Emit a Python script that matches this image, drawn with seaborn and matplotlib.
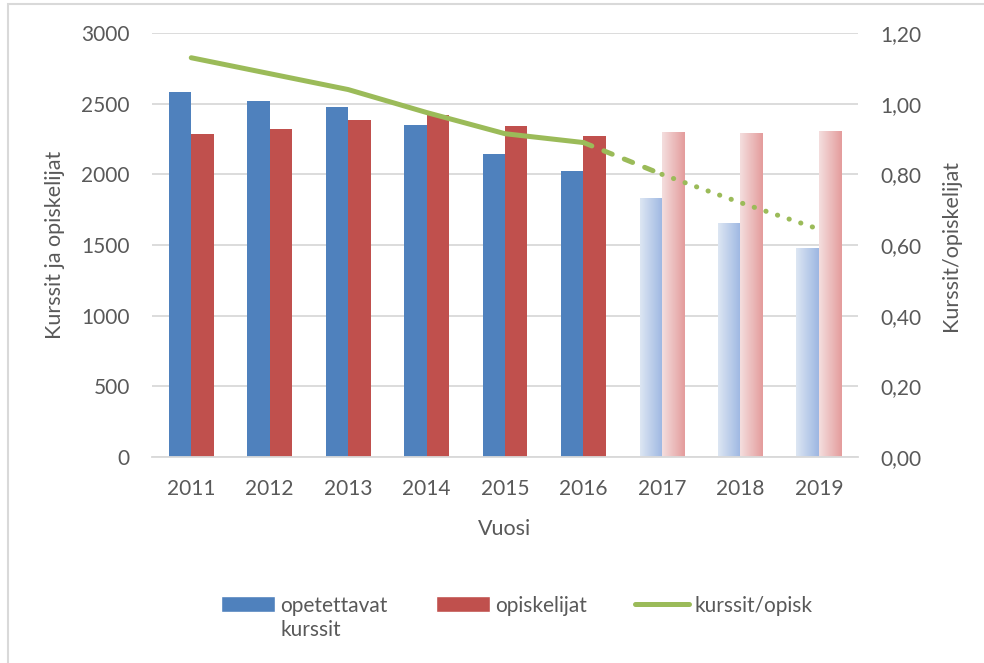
import numpy as np
import pandas as pd
import matplotlib
matplotlib.use("Agg")
import matplotlib.pyplot as plt
import seaborn as sns
from matplotlib.patches import Patch, Rectangle
from matplotlib.lines import Line2D
from matplotlib.colors import LinearSegmentedColormap

# data
years = ["2011", "2012", "2013", "2014", "2015", "2016", "2017", "2018", "2019"]
kurssit = [2580, 2517, 2476, 2349, 2144, 2024, 1833, 1656, 1479]
opiskelijat = [2283, 2319, 2384, 2418, 2342, 2271, 2300, 2293, 2307]
suhde = [1.13, 1.085, 1.04, 0.975, 0.915, 0.89, 0.80, 0.72, 0.645]
n_actual = 6  # 2011-2016 real, 2017-2019 forecast

blue = "#4f81bd"
red = "#c0504d"
green = "#9bbb59"
txt = "#595959"
fs = 15

sns.set_theme(style="white")
plt.rcParams['font.family'] = ['Lato', 'DejaVu Sans']
plt.rcParams['text.color'] = txt
plt.rcParams['axes.labelcolor'] = txt
plt.rcParams['xtick.color'] = txt
plt.rcParams['ytick.color'] = txt

df = pd.DataFrame({
    "Vuosi": years * 2,
    "arvo": kurssit + opiskelijat,
    "sarja": ["opetettavat kurssit"] * len(years) + ["opiskelijat"] * len(years),
})

fig = plt.figure(figsize=(9.84, 6.63), dpi=100)
ax = fig.add_axes([0.1545, 0.3107, 0.7175, 0.6395])

sns.barplot(ax=ax, data=df, x="Vuosi", y="arvo", hue="sarja",
            palette=[blue, red], width=0.57, legend=False, saturation=1,
            edgecolor="none")

# gradient fill for forecast bars
grads = [
    LinearSegmentedColormap.from_list("b", ["#dde6f3", "#9db7e2"]),
    LinearSegmentedColormap.from_list("r", ["#f4dede", "#e49c9c"]),
]
grad_img = np.linspace(0, 1, 100).reshape(1, -1)
for cont, cmap in zip(ax.containers, grads):
    for i, bar in enumerate(cont.patches):
        if i < n_actual:
            continue
        x0, y0 = bar.get_x(), bar.get_y()
        w, h = bar.get_width(), bar.get_height()
        bar.set_facecolor("none")
        im = ax.imshow(grad_img, cmap=cmap, aspect="auto",
                       extent=[x0, x0 + w, y0, y0 + h], zorder=bar.get_zorder())
        im.set_clip_path(bar)

ax.set_xlim(-0.5, len(years) - 0.5)
ax.set_ylim(0, 3000)
ax.set_yticks(range(0, 3001, 500))
ax.yaxis.grid(True, color="#d9d9d9", linewidth=1.3)
ax.set_axisbelow(True)
for s in ["top", "right", "left"]:
    ax.spines[s].set_visible(False)
ax.spines["bottom"].set_color("#d9d9d9")
ax.spines["bottom"].set_linewidth(1.3)
ax.tick_params(axis="y", length=0, labelsize=fs, pad=16)
ax.tick_params(axis="x", length=0, labelsize=fs, pad=16)
ax.set_xlabel("Vuosi", fontsize=fs + 0.5, labelpad=14)
ax.set_ylabel("Kurssit ja opiskelijat", fontsize=fs + 0.5, labelpad=12)

# ratio line on secondary axis
ax2 = ax.twinx()
xs = np.arange(len(years))
lw = 3.6
ax2.plot(xs[:n_actual], suhde[:n_actual], color=green, lw=lw,
         solid_capstyle="round")
ax2.plot(xs[n_actual - 1:n_actual + 1], suhde[n_actual - 1:n_actual + 1],
         color=green, lw=lw, linestyle=(0, (1.8, 2.6)), dash_capstyle="round")
ax2.plot(xs[n_actual:], suhde[n_actual:], color=green, lw=lw,
         linestyle=(0, (0.05, 2.4)), dash_capstyle="round")
ax2.set_ylim(0, 1.2)
ax2.set_yticks(np.arange(0, 1.21, 0.2))
ax2.set_yticklabels([f"{v:.2f}".replace(".", ",") for v in np.arange(0, 1.21, 0.2)])
for s in ax2.spines.values():
    s.set_visible(False)
ax2.tick_params(axis="y", length=0, labelsize=fs, pad=16)
ax2.set_ylabel("Kurssit/opiskelijat", fontsize=fs + 0.5, labelpad=14)
ax2.grid(False)

handles = [
    Patch(facecolor=blue, label="opetettavat"),
    Patch(facecolor=red, label="opiskelijat"),
    Line2D([0], [0], color=green, lw=lw, label="kurssit/opisk"),
]
leg = fig.legend(handles=handles, loc="upper center", bbox_to_anchor=(0.525, 0.13),
                 ncol=3, frameon=False, fontsize=fs, handlelength=2.6,
                 handleheight=0.8, handletextpad=0.25, columnspacing=2.3)

# second line of the first legend label
fig.canvas.draw()
first = leg.get_texts()[0]
bb = first.get_window_extent().transformed(fig.transFigure.inverted())
fig.text(bb.x0, bb.y0 - 0.006, "kurssit", fontsize=fs, ha="left", va="top")

# chart border
fig.patches.append(Rectangle((8 / 984, -0.01), 1.1, 1 - 4 / 663 + 0.01,
                             transform=fig.transFigure, fill=False,
                             edgecolor="#d9d9d9", linewidth=1.5))

fig.savefig("out.png", dpi=100)
